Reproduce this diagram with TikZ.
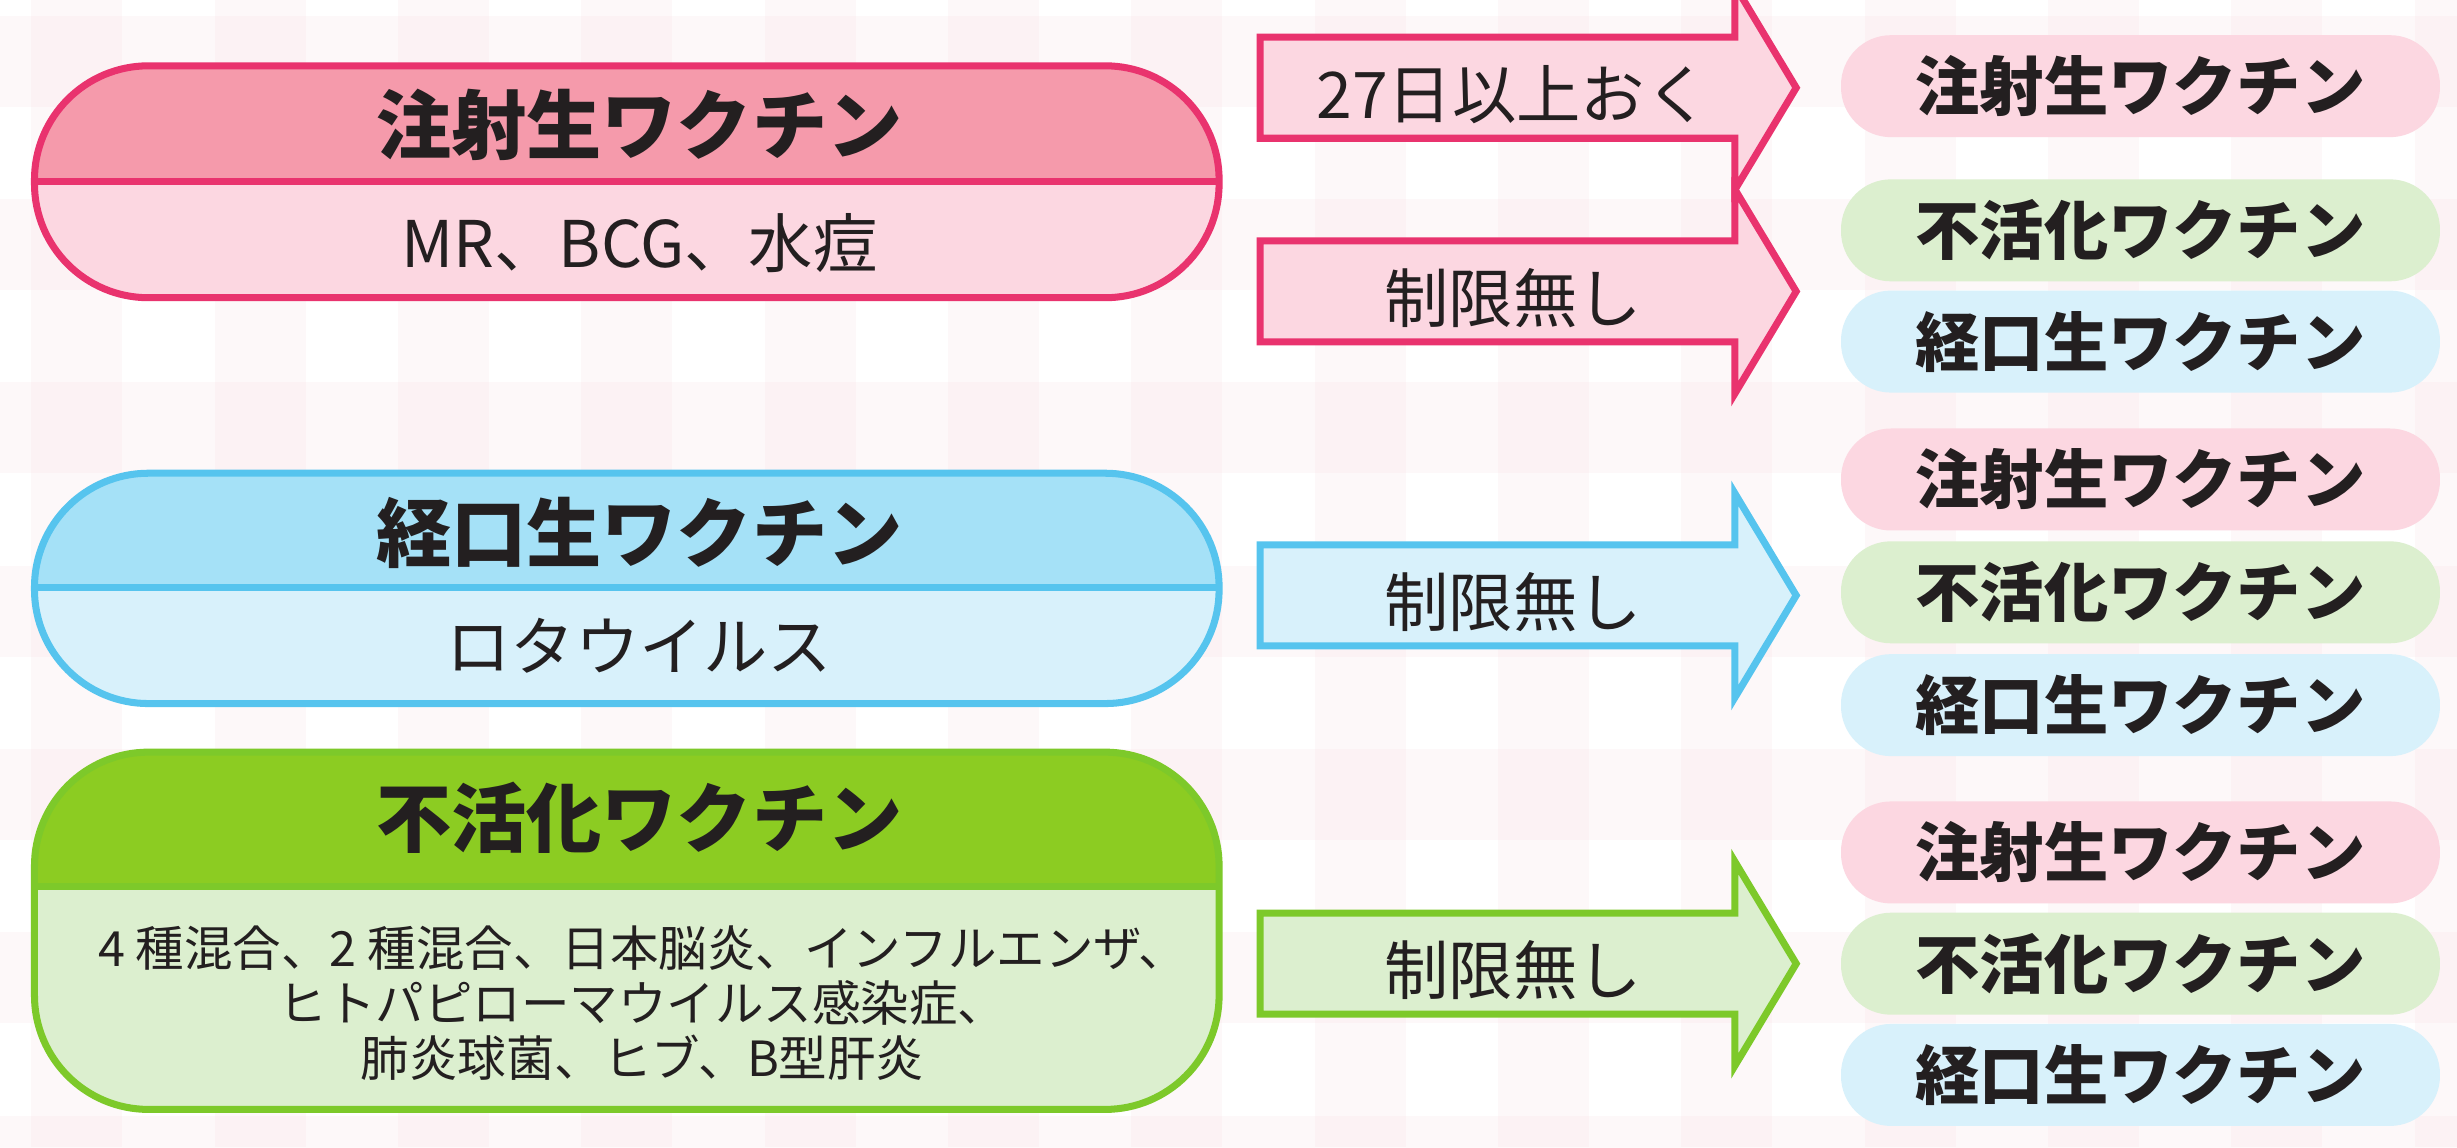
\documentclass[tikz,border=0pt]{standalone}
\usepackage{fontspec}
\setmainfont{Noto Sans CJK JP}
\usetikzlibrary{shapes,arrows}

\definecolor{injline}{HTML}{E9336E}
\definecolor{injhead}{HTML}{F59AAB}
\definecolor{injfill}{HTML}{FCD7E1}
\definecolor{oralline}{HTML}{56C4EE}
\definecolor{oralhead}{HTML}{A5E1F7}
\definecolor{oralfill}{HTML}{D8F1FB}
\definecolor{inaline}{HTML}{7DC92A}
\definecolor{inahead}{HTML}{8CCC22}
\definecolor{inafill}{HTML}{DCEFCF}
\definecolor{ink}{HTML}{231F20}
\definecolor{check}{HTML}{F8DCE1}

\begin{document}
\begin{tikzpicture}[x=0.01567cm, y=-0.01567cm, text=ink,
  title/.style={font=\fontsize{21.4}{24}\selectfont\bfseries},
  sub/.style={font=\fontsize{18.3}{21}\selectfont},
  pill/.style={rectangle, rounded corners=0.5cm, minimum width=5.99cm, minimum height=1.02cm, inner sep=0pt, font=\fontsize{18.3}{21}\selectfont\bfseries},
  flow/.style={single arrow, draw, line width=2pt, anchor=tail, minimum height=5.36cm, single arrow head extend=0.517cm, single arrow tip angle=118, inner xsep=0pt, inner ysep=0pt, text height=0.78cm, text depth=0.16cm, font=\fontsize{18.3}{21}\selectfont},
  frame/.style={line width=2pt, rounded corners=1.14cm}]

  % gingham background
  \fill[white] (0,0) rectangle (1568,732);
  \useasboundingbox (0,0) rectangle (1568,732);
  \foreach \k in {0,...,13}
    \fill[check, opacity=0.18] ({\k*117+20},0) rectangle ({\k*117+78},732);
  \foreach \k in {0,...,6}
    \fill[check, opacity=0.18] (0,{\k*117+10}) rectangle (1568,{\k*117+68});

  % injected live vaccine
  \begin{scope}
    \clip[rounded corners=1.14cm] (22,42) rectangle (778,190);
    \fill[injfill] (22,42) rectangle (778,190);
    \fill[injhead] (22,42) rectangle (778,116);
  \end{scope}
  \draw[injline, frame] (22,42) rectangle (778,190);
  \draw[injline, line width=2pt] (22,116) -- (778,116);
  \node[title] (inj) at (408,80) {注射生ワクチン};
  \node[sub] (injsub) at (408,155) {MR、BCG、水痘};

  % oral live vaccine
  \begin{scope}
    \clip[rounded corners=1.14cm] (22,302) rectangle (778,449);
    \fill[oralfill] (22,302) rectangle (778,449);
    \fill[oralhead] (22,302) rectangle (778,375);
  \end{scope}
  \draw[oralline, frame] (22,302) rectangle (778,449);
  \draw[oralline, line width=2pt] (22,375) -- (778,375);
  \node[title] (oral) at (408,340) {経口生ワクチン};
  \node[sub] (oralsub) at (408,412) {ロタウイルス};

  % inactivated vaccine
  \begin{scope}
    \clip[rounded corners=1.14cm] (22,480) rectangle (778,708);
    \fill[inafill] (22,480) rectangle (778,708);
    \fill[inahead] (22,480) rectangle (778,566);
  \end{scope}
  \draw[inaline, frame] (22,480) rectangle (778,708);
  \draw[inaline, line width=2pt] (22,566) -- (778,566);
  \node[title] (ina) at (408,522) {不活化ワクチン};
  \node[font=\fontsize{13.8}{15.6}\selectfont, align=center] (inasub) at (410,640)
    {4 種混合、2 種混合、日本脳炎、インフルエンザ、\\ヒトパピローマウイルス感染症、\\肺炎球菌、ヒブ、B型肝炎};

  % intervals
  \node[flow, draw=injline, fill=injfill] (wait) at (802,56) {27日以上おく};
  \node[flow, draw=injline, fill=injfill] (free1) at (802,186) {制限無し};
  \node[flow, draw=oralline, fill=oralfill] (free2) at (802,380) {制限無し};
  \node[flow, draw=inaline, fill=inafill] (free3) at (802,615) {制限無し};

  % next vaccines
  \node[pill, fill=injfill] (ainj) at (1366,55) {注射生ワクチン};
  \node[pill, fill=inafill] (aina) at (1366,147) {不活化ワクチン};
  \node[pill, fill=oralfill] (aoral) at (1366,218) {経口生ワクチン};

  \node[pill, fill=injfill] (binj) at (1366,306) {注射生ワクチン};
  \node[pill, fill=inafill] (bina) at (1366,378) {不活化ワクチン};
  \node[pill, fill=oralfill] (boral) at (1366,450) {経口生ワクチン};

  \node[pill, fill=injfill] (cinj) at (1366,544) {注射生ワクチン};
  \node[pill, fill=inafill] (cina) at (1366,615) {不活化ワクチン};
  \node[pill, fill=oralfill] (coral) at (1366,686) {経口生ワクチン};
\end{tikzpicture}
\end{document}
